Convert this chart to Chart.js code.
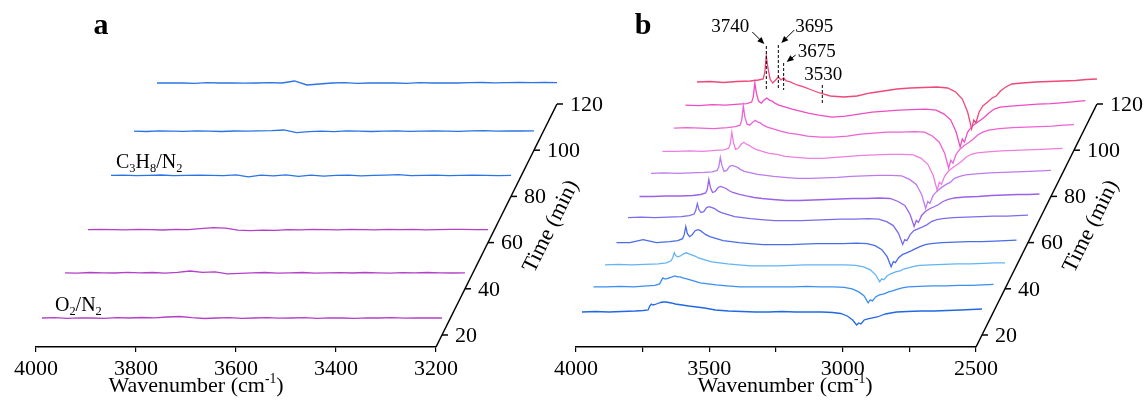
<!DOCTYPE html>
<html lang="en">
<head>
<meta charset="UTF-8">
<title>In situ DRIFTS spectra</title>
<script src="https://cdn.jsdelivr.net/npm/chart.js"></script>
<style>
  body { margin: 0; background: #fff; }
  .wrap { position: relative; width: 1146px; height: 402px; overflow: hidden; }
  canvas { position: absolute; top: 0; }
  #chartA { left: 0; }
  #chartB { left: 540px; }
</style>
</head>
<body>
<div class="wrap">
  <canvas id="chartA" width="610" height="402"></canvas>
  <canvas id="chartB" width="606" height="402"></canvas>
</div>
<script>
// ---- panel a: O2/N2 then C3H8/N2, flat spectra ----
const timesA = [20, 40, 60, 80, 100, 120];
const colorsA = ['#b43fc8', '#b43fc8', '#b43fc8', '#2a74e6', '#2a74e6', '#2a74e6'];
const wavenumbersA = [4000, 3975, 3950, 3925, 3900, 3875, 3850, 3825, 3800, 3775, 3750, 3725, 3700,
  3675, 3650, 3625, 3600, 3575, 3550, 3525, 3500, 3475, 3450, 3425, 3400, 3375, 3350, 3325, 3300,
  3275, 3250, 3225, 3200];
const baselineA = [17, 16, 13, 21, 19, 21];
const specA20 = [0, 0.3, -0.3, 0.2, 0, -0.4, 0.3, 0, 0.5, 0.2, 1, 1.5, 0.3, -0.5, 0, 0.3, -0.3, 0, 0.4, -0.2, 0, 0.3, -0.3, 0.2, 0, -0.3, 0.2, 0, 0.3, -0.2, 0, 0.2, 0];
const specA40 = [0, -0.3, 0.3, 0, -0.2, 0.4, 0, 0.3, -0.3, 0.5, 1.8, 0.5, 1, -1, -0.5, 0, 0.3, -0.4, 0, 0.3, -0.3, 0, 0.2, -0.2, 0.3, 0, -0.3, 0.2, 0, 0.3, 0, -0.2, 0];
const specA60 = [0, 0.3, 0, -0.3, 0.2, 0, -0.4, 0.3, 0, 1, 2, 1.5, -0.5, -1, -0.5, -0.8, 0, -0.3, 0.2, 0, -0.3, 0.3, 0, -0.2, 0.2, 0, 0.3, -0.2, 0, 0.2, 0.3, 0, 0];
const specA80 = [0, 0.3, -0.3, 0, 0.4, -0.2, 0, 0.3, 0, -0.3, 0.5, -1.5, 0.3, -0.5, 0.5, -1, 0.2, -0.8, 0, 0.3, -0.4, 0, 0.3, 0.8, -0.3, 0, 0.2, -0.3, 0, 0.3, 0, -0.2, 0];
const specA100 = [0, -0.3, 0.3, 0, -0.2, 0.3, 0, -0.3, 0.2, 0, 0.3, 0.5, 1.2, -1.5, -0.5, 0, -0.4, 0.3, 0, -0.3, 0, 0.3, -0.2, 0, 0.3, 0, -0.2, 0.3, 0.5, 0, 0.3, 0.2, 0.3];
const specA120 = [0, 0.2, 0, -0.3, 0.3, 0, 0.2, -0.2, 0, 0.3, 0, 2, -2, -1, 0, 0.3, -0.3, 0, 0.2, 0, -0.3, 0.3, 0, 0.2, 0, 0.3, 0.5, 0.2, 0.3, 0.5, 0.3, 0.5, 0.4];

// ---- panel b: C3H8 + O2, every 10 min ----
const timesB = [20, 30, 40, 50, 60, 70, 80, 90, 100, 110, 120];
const colorsB = ['#2168e4', '#3a8ef0', '#62b4f6', '#4a6ce8', '#7a6cec', '#9a62ec', '#bd7cee',
  '#ee7ee0', '#ee62d4', '#ee4cc4', '#f04878'];
const wavenumbersB = [4000, 3950, 3900, 3850, 3800, 3770,
  3752, 3746, 3740, 3734, 3726, 3716, 3705, 3695, 3685, 3675, 3665, 3650,
  3625, 3600, 3570, 3540, 3500, 3450, 3400, 3350, 3300, 3250, 3200, 3150, 3100,
  3060, 3030, 3005, 2985, 2970, 2962, 2954, 2942, 2928, 2910, 2893, 2878, 2862, 2842, 2820,
  2780, 2730, 2680, 2630, 2580, 2540, 2500];
const baselineB = [23, 25, 24, 23, 25, 23, 23, 22, 22, 22, 22];
const specB20 = [0, 0.5, 0, 0.5, 1, 1.5,
  2, 6, 8, 7, 7.5, 8.5, 9.5, 10, 10, 9.5, 9, 8,
  7, 6, 5, 4, 2, 1, 0.5, 0, 0, 0.5, 0, 0, 0,
  -0.5, -1.5, -4, -8, -13, -11, -12, -8, -7, -6, -5, -3.5, -2, -1, 0,
  0.5, 1, 1, 1.5, 2, 2.5, 3];
const specB30 = [0, 0, 0.5, 0, 1, 1.5,
  3, 6, 9, 8, 8, 9, 10, 11, 10, 10, 9, 8,
  6, 4, 3, 2, 1, 0, 0, 0, 0, 0, 0.5, 0, 0,
  -0.5, -2, -5, -9, -16, -13, -14, -10, -8, -7, -5, -4, -2.5, -1, 0,
  0.5, 1, 1, 1.5, 1.5, 2, 2.5];
const specB40 = [0, 0.5, 0, 0.5, 1, 2,
  4, 7, 12, 9, 8, 9, 11, 12, 11, 10, 9, 7,
  5, 3, 2, 1, 0, -1, -1, -1, -0.5, 0, 0, 0, 0,
  -0.5, -2, -5, -10, -17, -14, -15, -11, -9, -7, -6, -4, -3, -1.5, -0.5,
  0, 0.5, 1, 1, 1.5, 2, 2];
const specB50 = [0, 0, 3, 0, 1, 2,
  4, 8, 16, 9, 6, 8, 12, 13, 12, 10, 8, 6,
  4, 2, 1, 0, -1, -2, -2, -2, -1.5, -1, -1, -1, -0.5,
  -1, -3, -7, -14, -24, -19, -20, -15, -12, -10, -8, -6, -4, -2, -1,
  0, 0.5, 1, 1, 1.5, 2, 2.5];
const specB60 = [0, 0.5, 0, 0.5, 1, 2,
  3.5, 7, 14, 8, 5, 6, 10, 11, 10, 9, 7, 5,
  3, 1, 0, -1, -2, -3, -3, -3, -2.5, -2, -1.5, -1.5, -1,
  -1.5, -4, -8, -16, -27, -22, -23, -17, -13, -11, -9, -7, -4, -2, -1,
  0, 0.5, 1, 1.5, 1.5, 2, 2.5];
const specB70 = [0, 0, 0.5, 0.5, 1, 2,
  3.5, 7, 17, 9, 4, 5, 9, 10, 9, 8, 6, 4,
  2, 0.5, -1, -2, -3, -4, -4, -3.5, -3, -2.5, -2, -2, -1.5,
  -2, -5, -9, -18, -30, -24, -26, -19, -15, -12, -10, -8, -5, -3, -1.5,
  -0.5, 0, 1, 1.5, 2, 2, 2.5];
const specB80 = [0, 0.5, 0, 0.5, 1, 1.5,
  3, 6, 16, 8, 2, 3, 7, 8, 7, 6, 4, 2,
  0.5, -1, -2, -3, -4, -5, -5, -4.5, -4, -3, -2.5, -2, -2,
  -2.5, -6, -11, -21, -35, -28, -30, -22, -18, -14, -11, -9, -5, -3, -1.5,
  -0.5, 0.5, 1, 1.5, 2, 2.5, 3];
const specB90 = [0, 0, 0.5, 0, 1, 1.5,
  3, 7, 19, 9, 2, 3, 7, 9, 7, 6, 4, 2,
  0, -2, -3, -5, -6, -7, -7, -6, -5, -4, -3.5, -3, -3,
  -3.5, -7, -13, -24, -39, -31, -33, -25, -20, -16, -13, -10, -6, -3, -1.5,
  -0.5, 0.5, 1, 1.5, 2, 2.5, 3];
const specB100 = [0, 0.5, 0, -0.5, 0.5, 1.5,
  3, 8, 22, 11, 4, 3, 6, 8, 6, 5, 3, 1,
  -1, -3, -5, -6, -8, -9, -9, -8, -6, -5, -4, -4, -3.5,
  -4, -8, -14, -25, -40, -32, -35, -26, -21, -17, -14, -11, -7, -4, -2,
  -0.5, 0.5, 1, 1.5, 2, 3, 3.5];
const specB110 = [0, -0.5, 0.5, 0, 1, 1.5,
  3, 8, 22, 12, 4, 2, 5, 7, 5, 4, 2, 0,
  -2, -4, -6, -8, -10, -12, -11, -9, -7, -6, -5, -4.5, -4,
  -5, -9, -15, -27, -42, -34, -37, -27, -22, -18, -15, -12, -8, -4, -2,
  -1, 0, 1, 1.5, 2.5, 3.5, 4.5];
const specB120 = [0, 0.5, -0.5, 0.5, 1, 2,
  3, 9, 26, 14, 3, -1, 2, 5, 2, 4, 1, 0,
  -3, -5, -8, -11, -14, -15, -14, -11, -9, -7, -6, -5.5, -5,
  -6, -10, -17, -30, -47, -38, -41, -30, -24, -20, -16, -14, -9, -5, -2,
  -1, 0, 0.5, 1, 1.5, 2.5, 3];

const timeTicks = [20, 40, 60, 80, 100, 120];
const peakMarks = [3740, 3695, 3675, 3530];

// ---- projection of the time axis ----
const T0 = 14.8;      // time at the front plane
const RISE = 2.31;    // px per minute, upwards
const RUN = 1.15;     // px per minute, to the right
const AXIS_PX = 400;  // drawn length of the wavenumber axis
const SERIF = "'Liberation Serif', 'Times New Roman', serif";

function traces(times, wn, base, spectra, colors, shift) {
  return times.map((t, i) => ({
    data: wn.map((w, j) => ({ x: w - (t - T0) * shift, y: (t - T0) * RISE + base[i] + spectra[i][j] })),
    borderColor: colors[i],
    borderWidth: 1.3,
    pointRadius: 0,
    showLine: true,
    tension: 0,
    clip: false
  }));
}

function proj(chart, shift, w, t, a) {
  return {
    x: chart.scales.x.getPixelForValue(w - (t - T0) * shift),
    y: chart.scales.y.getPixelForValue((t - T0) * RISE + a)
  };
}

function drawRich(ctx, parts, x, y, size, align) {
  const pieces = parts.map(([s, m]) => {
    const fs = m ? size * 0.62 : size;
    ctx.font = fs + 'px ' + SERIF;
    return { s, m, fs, w: ctx.measureText(s).width };
  });
  const total = pieces.reduce((a, p) => a + p.w, 0);
  let cx = align === 'center' ? x - total / 2 : x;
  ctx.textAlign = 'left';
  ctx.textBaseline = 'alphabetic';
  pieces.forEach(p => {
    ctx.font = p.fs + 'px ' + SERIF;
    const dy = p.m === 'sub' ? size * 0.2 : p.m === 'sup' ? -size * 0.42 : 0;
    ctx.fillText(p.s, cx, y + dy);
    cx += p.w;
  });
}

function frame(cfg) {
  return {
    id: 'frame',
    afterDraw(chart) {
      const ctx = chart.ctx;
      const s = cfg.shift;
      ctx.save();
      ctx.strokeStyle = '#000';
      ctx.fillStyle = '#000';
      // oblique time axis
      const p0 = proj(chart, s, cfg.end, T0, 0);
      const p1 = proj(chart, s, cfg.end, 120, 0);
      ctx.lineWidth = 1.5;
      ctx.beginPath();
      ctx.moveTo(p0.x, p0.y);
      ctx.lineTo(p1.x, p1.y);
      ctx.stroke();
      ctx.font = '22px ' + SERIF;
      ctx.textBaseline = 'middle';
      ctx.textAlign = 'left';
      timeTicks.forEach(t => {
        const p = proj(chart, s, cfg.end, t, 0);
        ctx.beginPath();
        ctx.moveTo(p.x, p.y);
        ctx.lineTo(p.x + 6, p.y);
        ctx.stroke();
        ctx.fillText(String(t), p.x + 13, p.y + 1);
      });
      const pm = proj(chart, s, cfg.end, 67, 0);
      ctx.save();
      ctx.translate(pm.x + 55, pm.y);
      ctx.rotate(Math.atan2(-RISE, RUN));
      ctx.textAlign = 'center';
      ctx.fillText('Time (min)', 0, 0);
      ctx.restore();
      // wavenumber axis title
      drawRich(ctx, [['Wavenumber (cm', ''], ['-1', 'sup'], [')', '']], cfg.titleX, 392, 22, 'center');
      // panel letter
      ctx.font = 'bold 30px ' + SERIF;
      ctx.textAlign = 'center';
      ctx.textBaseline = 'alphabetic';
      ctx.fillText(cfg.letter, cfg.letterX, 34);
      if (cfg.extra) cfg.extra(chart, ctx);
      ctx.restore();
    }
  };
}

function arrow(ctx, x0, y0, x1, y1) {
  const ang = Math.atan2(y1 - y0, x1 - x0);
  ctx.lineWidth = 1;
  ctx.beginPath();
  ctx.moveTo(x0, y0);
  ctx.lineTo(x1 - 4 * Math.cos(ang), y1 - 4 * Math.sin(ang));
  ctx.stroke();
  ctx.beginPath();
  ctx.moveTo(x1, y1);
  ctx.lineTo(x1 - 7 * Math.cos(ang) + 3 * Math.sin(ang), y1 - 7 * Math.sin(ang) - 3 * Math.cos(ang));
  ctx.lineTo(x1 - 7 * Math.cos(ang) - 3 * Math.sin(ang), y1 - 7 * Math.sin(ang) + 3 * Math.cos(ang));
  ctx.closePath();
  ctx.fill();
}

function xAxis(min, max, step, every) {
  return {
    type: 'linear',
    reverse: true,
    min: min,
    max: max,
    afterFit(scale) { scale.height = 55; },
    border: { display: true, color: '#000', width: 1.5 },
    grid: { drawOnChartArea: false, drawTicks: true, tickLength: 5, color: '#000', lineWidth: 1.2 },
    ticks: {
      stepSize: step,
      autoSkip: false,
      maxRotation: 0,
      padding: 4,
      color: '#000',
      font: { family: SERIF, size: 22 },
      callback: v => (v % every === 0 ? String(v) : '')
    }
  };
}

function options(xs, padRight) {
  return {
    responsive: false,
    animation: false,
    layout: { padding: { left: 36, right: padRight, top: 10, bottom: 0 } },
    plugins: { legend: { display: false }, tooltip: { enabled: false } },
    scales: {
      x: xs,
      y: { display: false, min: 0, max: 337 }
    }
  };
}

// panel a
const shiftA = RUN * (4000 - 3200) / AXIS_PX;
new Chart(document.getElementById('chartA'), {
  type: 'scatter',
  data: { datasets: traces(timesA, wavenumbersA, baselineA,
    [specA20, specA40, specA60, specA80, specA100, specA120], colorsA, shiftA) },
  options: options(xAxis(3200, 4000, 200, 200), 610 - 436),
  plugins: [frame({
    shift: shiftA, end: 3200, titleX: 196, letter: 'a', letterX: 101,
    extra(chart, ctx) {
      const o = proj(chart, shiftA, 4000, 20, baselineA[0]);
      drawRich(ctx, [['O', ''], ['2', 'sub'], ['/N', ''], ['2', 'sub']], o.x + 13, o.y - 7, 20, 'left');
      const c = proj(chart, shiftA, 4000, 80, baselineA[3]);
      drawRich(ctx, [['C', ''], ['3', 'sub'], ['H', ''], ['8', 'sub'], ['/N', ''], ['2', 'sub']], c.x + 5, c.y - 7, 20, 'left');
    }
  })]
});

// panel b
const shiftB = RUN * (4000 - 2500) / AXIS_PX;
new Chart(document.getElementById('chartB'), {
  type: 'scatter',
  data: { datasets: traces(timesB, wavenumbersB, baselineB,
    [specB20, specB30, specB40, specB50, specB60, specB70, specB80, specB90, specB100, specB110, specB120],
    colorsB, shiftB) },
  options: options(xAxis(2500, 4000, 250, 500), 606 - 436),
  plugins: [frame({
    shift: shiftB, end: 2500, titleX: 245, letter: 'b', letterX: 103,
    extra(chart, ctx) {
      // dashed markers on the 120 min trace: [top, bottom] heights above the plane
      const spans = [[58, 14], [59, 14], [41, 14], [19, 1]];
      const label = [[-36, -19], [36, -18], [33, -11], [1, -10]];
      const arrows = [[-14, -14, -2, -2], [16, -15, 3, -2], [12, -8, 3, -1], null];
      ctx.lineWidth = 1;
      ctx.font = '19px ' + SERIF;
      ctx.textAlign = 'center';
      ctx.textBaseline = 'middle';
      peakMarks.forEach((w, i) => {
        const top = proj(chart, shiftB, w, 120, spans[i][0]);
        const bot = proj(chart, shiftB, w, 120, spans[i][1]);
        ctx.setLineDash([3, 2]);
        ctx.beginPath();
        ctx.moveTo(top.x, top.y);
        ctx.lineTo(bot.x, bot.y);
        ctx.stroke();
        ctx.setLineDash([]);
        ctx.fillText(String(w), top.x + label[i][0], top.y + label[i][1]);
        const a = arrows[i];
        if (a) arrow(ctx, top.x + a[0], top.y + a[1], top.x + a[2], top.y + a[3]);
      });
    }
  })]
});
</script>
</body>
</html>
